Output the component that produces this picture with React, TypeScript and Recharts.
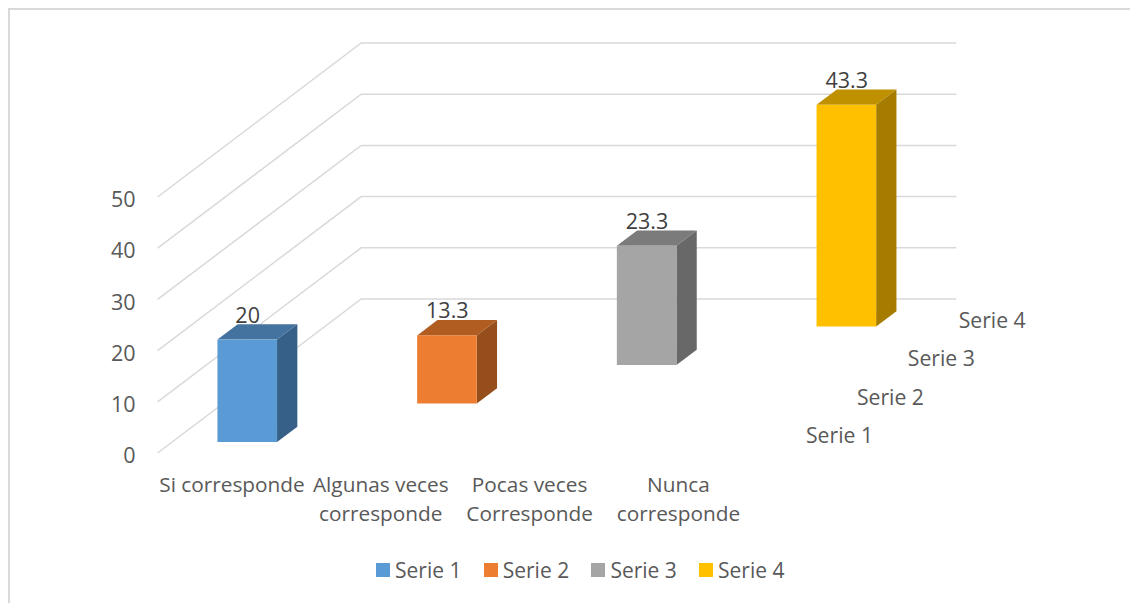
import React from "react";
import { BarChart, Bar, XAxis, YAxis, CartesianGrid, Legend, LabelList } from "recharts";

const categories = ["Si corresponde", "Algunas veces corresponde", "Pocas veces Corresponde", "Nunca corresponde"];
const categoryLines = [["Si corresponde"], ["Algunas veces", "corresponde"], ["Pocas veces", "Corresponde"], ["Nunca", "corresponde"]];
const seriesNames = ["Serie 1", "Serie 2", "Serie 3", "Serie 4"];
const serie1 = [20, null, null, null];
const serie2 = [null, 13.3, null, null];
const serie3 = [null, null, 23.3, null];
const serie4 = [null, null, null, 43.3];
const yTicks = [0, 10, 20, 30, 40, 50];

const frontColors = ["#5b9bd5", "#ed7d31", "#a5a5a5", "#ffc000"];
const topColors = ["#44739f", "#b15d22", "#7b7b7b", "#bf9000"];
const sideColors = ["#376089", "#964f1c", "#686868", "#a57c00"];

const SLOT_X = 50.9;
const SLOT_Y = 38.5;
const BAR_DX = 15.25;
const BAR_DY = 11;
const DEPTH_X = 20.3;
const DEPTH_Y = 15.3;
const FONT = "'Open Sans', sans-serif";
const TEXT = "#595959";
const LABEL = "#404040";
const GRID = "#d9d9d9";

const data = categories.map((name, i) => ({
  name,
  s1: serie1[i],
  s2: serie2[i],
  s3: serie3[i],
  s4: serie4[i],
}));

const offsetX = (s: number) => BAR_DX + SLOT_X * s;
const offsetY = (s: number) => BAR_DY + SLOT_Y * s;

const barShape = (s: number) => (p: any) => {
  if (p.value == null || !p.height) return <g />;
  const x = p.x + offsetX(s) - 0.4;
  const y = p.y - offsetY(s);
  const w = p.width;
  const h = p.height;
  return (
    <g>
      <polygon
        points={`${x},${y} ${x + DEPTH_X},${y - DEPTH_Y} ${x + w + DEPTH_X},${y - DEPTH_Y} ${x + w},${y}`}
        fill={topColors[s]}
      />
      <polygon
        points={`${x + w},${y} ${x + w + DEPTH_X},${y - DEPTH_Y} ${x + w + DEPTH_X},${y + h - DEPTH_Y} ${x + w},${y + h}`}
        fill={sideColors[s]}
      />
      <rect x={x} y={y} width={w} height={h} fill={frontColors[s]} />
    </g>
  );
};

const valueLabel = (s: number) => (p: any) => {
  if (p.value == null) return null;
  return (
    <text
      x={p.x + p.width / 2 + offsetX(s)}
      y={p.y - offsetY(s) - 17}
      textAnchor="middle"
      fontFamily={FONT}
      fontSize={21.5}
      fill={LABEL}
    >
      {p.value}
    </text>
  );
};

const gridLine = (p: any) => {
  const dx = SLOT_X * seriesNames.length;
  const dy = SLOT_Y * seriesNames.length;
  const isBase = Math.abs(p.y1 - (p.y + p.height)) < 1;
  return (
    <g key={p.key ?? p.y1}>
      <polyline
        points={`${p.x1},${p.y1} ${p.x1 + dx},${p.y1 - dy} ${p.x2 + dx},${p.y2 - dy}`}
        fill="none"
        stroke={GRID}
        strokeWidth={1.5}
      />
      {isBase &&
        seriesNames.map((n, s) => (
          <text
            key={n}
            x={p.x2 + 53.2 + SLOT_X * s}
            y={p.y1 - 10 - SLOT_Y * s}
            fontFamily={FONT}
            fontSize={21.2}
            fill={TEXT}
          >
            {n}
          </text>
        ))}
    </g>
  );
};

const categoryTick = (p: any) => {
  const lines = categoryLines[p.payload.index] ?? [p.payload.value];
  return (
    <text x={p.x} y={p.y} textAnchor="middle" fontFamily={FONT} fontSize={20.8} fill={TEXT}>
      {lines.map((l: string, i: number) => (
        <tspan key={l} x={p.x} dy={i === 0 ? 30.5 : 29}>
          {l}
        </tspan>
      ))}
    </text>
  );
};

const legendContent = (p: any) => (
  <div style={{ display: "flex", justifyContent: "flex-start", height: 30, alignItems: "center", paddingLeft: 368 }}>
    {(p.payload ?? []).map((e: any) => (
      <div key={e.value} style={{ display: "flex", alignItems: "center", width: 107.7, fontFamily: FONT, fontSize: 21, color: TEXT }}>
        <span style={{ display: "inline-block", width: 14, height: 14, background: e.color, marginRight: 5 }} />
        {e.value}
      </div>
    ))}
  </div>
);

export default function App() {
  return (
    <div style={{ position: "absolute", left: 8, top: 8, width: 1122, height: 595, overflow: "hidden" }}>
      <div style={{ position: "absolute", left: 0, top: 0, width: 1122, height: 595, boxSizing: "border-box", borderTop: `2px solid ${GRID}`, borderLeft: `2px solid ${GRID}` }} />
      <BarChart
        width={1122}
        height={595}
        data={data}
        barSize={59.6}
        margin={{ top: 189, right: 377.2, bottom: 50, left: 89.6 }}
      >
        <CartesianGrid horizontal={gridLine} vertical={false} />
        <XAxis dataKey="name" height={70} axisLine={false} tickLine={false} interval={0} tick={categoryTick} />
        <YAxis
          width={60}
          domain={[0, 50]}
          ticks={yTicks}
          axisLine={false}
          tickLine={false}
          tickSize={0}
          tickMargin={22}
          tick={{ fontFamily: FONT, fontSize: 21.5, fill: TEXT, dy: 2.5 }}
        />
        <Legend verticalAlign="bottom" content={legendContent} wrapperStyle={{ bottom: 18, left: 0, width: 1122 }} />
        {seriesNames.map((n, s) => (
          <Bar
            key={n}
            name={n}
            dataKey={`s${s + 1}`}
            stackId="a"
            fill={frontColors[s]}
            isAnimationActive={false}
            shape={barShape(s)}
          >
            <LabelList dataKey={`s${s + 1}`} content={valueLabel(s)} />
          </Bar>
        ))}
      </BarChart>
    </div>
  );
}
